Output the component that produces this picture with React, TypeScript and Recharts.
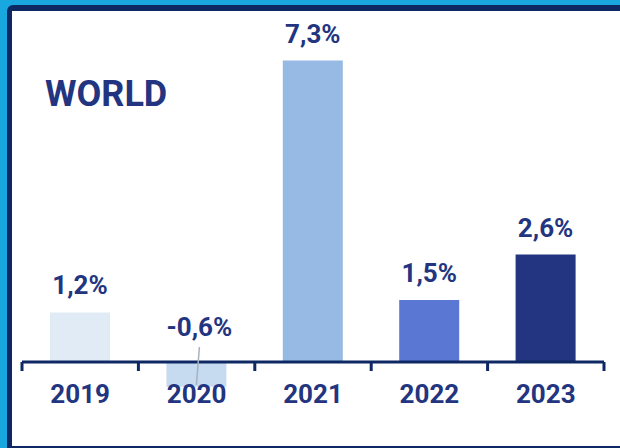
import { BarChart, Bar, XAxis, YAxis, Cell, LabelList, ReferenceLine } from "recharts"

const years = ["2019", "2020", "2021", "2022", "2023"]
const growth = [1.2, -0.6, 7.3, 1.5, 2.6]
const title = "WORLD"

const barColors = ["#e1ebf6", "#c6daf0", "#96bae4", "#5a77d3", "#233580"]
const navy = "#233580"
const axisNavy = "#0d2862"
const font = "Roboto, 'Noto Sans', sans-serif"

const chartData = years.map((year, i) => ({ year, value: growth[i] }))

const formatPct = (v: number) => `${v.toFixed(1).replace(".", ",")}%`

function ValueLabel(props: any) {
  const { x, y, width, height, value } = props
  const cx = Number(x) + Number(width) / 2
  const zeroY = Number(y) + Number(height)
  const v = Number(value)
  if (v < 0) {
    return (
      <g>
        <line x1={cx + 3} y1={zeroY - 15} x2={cx} y2={zeroY + 23} stroke="#a7b1bf" strokeWidth={1.5} />
        <text x={cx + 3} y={zeroY - 26} textAnchor="middle" fill={navy} fontSize={26} fontWeight={700} fontFamily={font}>
          {formatPct(v)}
        </text>
      </g>
    )
  }
  const top = Math.min(Number(y), zeroY)
  return (
    <text x={cx} y={top - 18} textAnchor="middle" fill={navy} fontSize={26} fontWeight={700} fontFamily={font}>
      {formatPct(v)}
    </text>
  )
}

function YearTick(props: any) {
  const { x, y, payload } = props
  return (
    <text x={x} y={y} textAnchor="middle" fill={navy} fontSize={26} fontWeight={700} fontFamily={font}>
      {payload.value}
    </text>
  )
}

// zero line drawn as the category axis, with tick marks on the band edges
function ZeroAxis(props: any) {
  const { x1, y1, x2 } = props
  const step = (x2 - x1) / years.length
  return (
    <g>
      <line x1={x1} y1={y1} x2={x2} y2={y1} stroke={axisNavy} strokeWidth={3} />
      {Array.from({ length: years.length + 1 }, (_, i) => (
        <line key={i} x1={x1 + i * step} y1={y1} x2={x1 + i * step} y2={y1 + 9} stroke={axisNavy} strokeWidth={3} />
      ))}
    </g>
  )
}

export default function App() {
  return (
    <div
      style={{
        position: "fixed",
        left: 0,
        top: 0,
        width: 620,
        height: 448,
        overflow: "hidden",
        background: "#18a8df",
      }}
    >
      <div
        style={{
          position: "absolute",
          left: 7,
          top: 5,
          width: 640,
          height: 443,
          boxSizing: "border-box",
          background: "#ffffff",
          borderLeft: `5px solid ${axisNavy}`,
          borderTop: `6px solid ${axisNavy}`,
          borderBottom: `2px solid ${axisNavy}`,
          borderTopLeftRadius: 6,
        }}
      />
      <div style={{ position: "absolute", left: 0, top: 0 }}>
        <BarChart
          width={620}
          height={448}
          data={chartData}
          margin={{ top: 31.6, right: 16, bottom: 14.7, left: 22 }}
        >
          <text x={45} y={106} fill={navy} fontSize={36} fontWeight={700} fontFamily={font}>
            {title}
          </text>
          <YAxis hide domain={[-1, 8]} />
          <XAxis
            dataKey="year"
            height={30}
            axisLine={false}
            tickLine={false}
            tickSize={0}
            tickMargin={0}
            interval={0}
            tick={<YearTick />}
          />
          <Bar dataKey="value" barSize={60} isAnimationActive={false}>
            {chartData.map((d, i) => (
              <Cell key={d.year} fill={barColors[i]} />
            ))}
            <LabelList dataKey="value" content={<ValueLabel />} />
          </Bar>
          <ReferenceLine y={0} shape={<ZeroAxis />} ifOverflow="visible" />
        </BarChart>
      </div>
    </div>
  )
}
